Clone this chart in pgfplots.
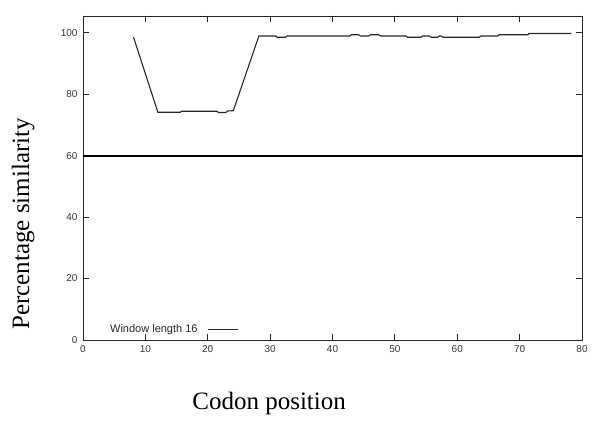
\documentclass[border=0pt]{standalone}
\usepackage{pgfplots}
\pgfplotsset{compat=1.18}
\usepackage{fontspec}
\setmainfont{Liberation Serif}
\newfontfamily\ticksans{Liberation Sans}
\begin{document}
\begin{tikzpicture}
\path[use as bounding box] (-83pt,-80pt) rectangle (510pt,340pt);
\begin{axis}[
  at={(0pt,0pt)}, anchor=south west,
  scale only axis, width=499pt, height=324pt,
  xmin=0, xmax=80, ymin=0, ymax=105.4,
  xtick={0,10,...,80}, ytick={0,20,...,100},
  tick align=inside, major tick length=6pt,
  axis line style={line width=0.9pt, black!85},
  every tick/.style={line width=0.8pt, black!85},
  /pgf/number format/assume math mode=true,
  tick label style={font=\ticksans\fontsize{10}{12}\selectfont, text=black!80},
  xticklabel style={yshift=-2pt},
  yticklabel style={xshift=-2pt},
  xlabel={Codon position},
  ylabel={Percentage similarity},
  label style={font=\fontsize{25}{28}\selectfont},
  xlabel style={at={(axis description cs:0.373,-0.216)}, anchor=base},
  ylabel style={at={(axis description cs:-0.108,0.358)}, anchor=base, rotate=0},
  legend plot pos=right,
  legend image code/.code={},
  legend style={at={(axis description cs:0.05,0.034)}, anchor=west, draw=none, fill=none, inner sep=0pt,
    font=\ticksans\fontsize{11}{12}\selectfont, text=black!85},
]
\addplot[line width=2pt, black, forget plot] coordinates {(0,60) (80,60)};
\addplot[line width=1.1pt, black!85] coordinates {
(8.1,98.5) (12.0,74.1) (15.6,74.1) (15.8,74.4) (21.5,74.4) (21.7,74.0) (22.9,74.0) (23.2,74.5) (24.1,74.6)
(28.2,98.9) (30.9,98.9) (31.1,98.5) (32.5,98.5) (32.7,98.9) (42.8,98.9) (43.0,99.3) (44.2,99.3) (44.5,98.9)
(45.8,98.9) (46.1,99.3) (47.4,99.3) (47.7,98.9) (51.8,98.9) (52.0,98.5) (54.2,98.5) (54.4,98.9) (55.5,98.9)
(55.8,98.5) (56.9,98.5) (57.1,98.9) (57.4,98.9) (57.7,98.5) (63.5,98.5) (63.8,98.9) (66.5,98.9) (66.7,99.3)
(71.3,99.3) (71.5,99.7) (78.3,99.7)
};
\addlegendentry{Window length 16\hspace*{10pt}\rule[3pt]{30pt}{0.7pt}}
\end{axis}
\end{tikzpicture}
\end{document}
